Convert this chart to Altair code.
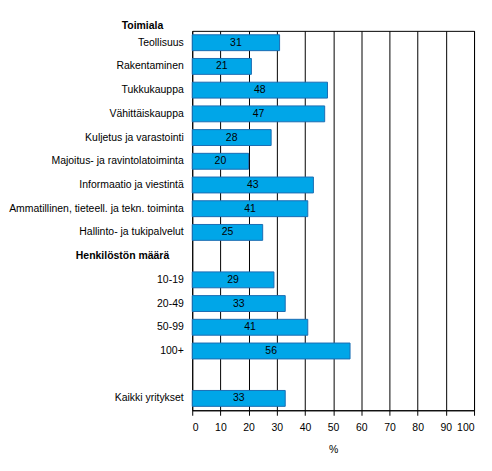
import altair as alt
import pandas as pd

categories = [
    "Teollisuus", "Rakentaminen", "Tukkukauppa", "Vähittäiskauppa",
    "Kuljetus ja varastointi", "Majoitus- ja ravintolatoiminta",
    "Informaatio ja viestintä", "Ammatillinen, tieteell. ja tekn. toiminta",
    "Hallinto- ja tukipalvelut",
    "10-19", "20-49", "50-99", "100+",
    "Kaikki yritykset",
]
values = [31, 21, 48, 47, 28, 20, 43, 41, 25, 29, 33, 41, 56, 33]

header1 = "Toimiala"
header2 = "Henkilöstön määrä"
blank_slot = "_blank"

slots = categories[:9] + [header2] + categories[9:13] + [blank_slot] + categories[13:]
x_ticks = list(range(0, 101, 10))

df = pd.DataFrame({"cat": categories, "val": values})
df["mid"] = df["val"] / 2
hdr = pd.DataFrame({"cat": [header2], "txt": [header2]})

FONT = "Liberation Sans"
FS = 10.5

y_scale = alt.Scale(domain=slots, paddingInner=0.33, paddingOuter=0.165)
y_axis = alt.Axis(
    title=None,
    ticks=False,
    domain=False,
    labelFont=FONT,
    labelFontSize=FS,
    labelColor="black",
    labelPadding=9,
    labelLimit=300,
    labelExpr=f"(datum.value == '{header2}' || datum.value == '{blank_slot}') ? '' : datum.value",
)

x_scale = alt.Scale(domain=[0, 100], nice=False)
x_axis = alt.Axis(
    title="%",
    values=x_ticks,
    labelOverlap=False,
    grid=True,
    gridColor="black",
    gridOpacity=1,
    gridWidth=1,
    domainColor="black",
    tickColor="black",
    tickSize=5,
    labelFont=FONT,
    labelFontSize=FS,
    labelColor="black",
    labelPadding=7,
    titleFont=FONT,
    titleFontSize=FS,
    titleFontWeight="normal",
    titleColor="black",
    titlePadding=12,
)

bars = alt.Chart(df).mark_bar(
    color="#00a6e8", stroke="#1b6db3", strokeWidth=1
).encode(
    x=alt.X("val:Q", scale=x_scale, axis=x_axis),
    y=alt.Y("cat:N", sort=slots, scale=y_scale, axis=y_axis),
)

labels = alt.Chart(df).mark_text(
    font=FONT, fontSize=FS, color="black", align="center", baseline="middle"
).encode(
    x=alt.X("mid:Q", scale=x_scale, axis=x_axis),
    y=alt.Y("cat:N", sort=slots, scale=y_scale, axis=y_axis),
    text=alt.Text("val:Q", format="d"),
)

hdr2 = alt.Chart(hdr).mark_text(
    font=FONT, fontSize=FS, fontWeight="bold", color="black", align="center", baseline="middle"
).encode(
    x=alt.value(-70),
    y=alt.Y("cat:N", sort=slots, scale=y_scale, axis=y_axis),
    text="txt:N",
)

hdr1 = alt.Chart(pd.DataFrame({"txt": [header1]})).mark_text(
    font=FONT, fontSize=FS, fontWeight="bold", color="black", align="center", baseline="middle"
).encode(
    x=alt.value(-50),
    y=alt.value(-5),
    text="txt:N",
)

chart = alt.layer(bars, labels, hdr2, hdr1).properties(
    width=283,
    height=381,
    autosize=alt.AutoSizeParams(type="none"),
    padding={"left": 185, "top": 22, "right": 10, "bottom": 50},
    background="white",
).configure_view(stroke="black", strokeWidth=1)

chart.save("out.html", embed_options={"renderer": "svg", "actions": False})
